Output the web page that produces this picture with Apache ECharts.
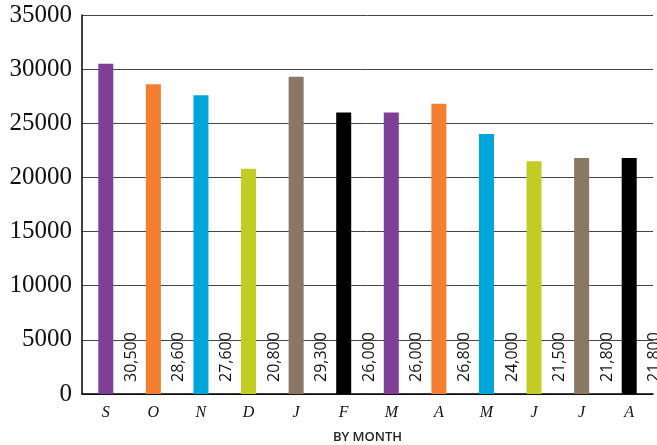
<!DOCTYPE html>
<html>
<head>
<meta charset="utf-8">
<script src="https://cdn.jsdelivr.net/npm/echarts@6/dist/echarts.min.js"></script>
<style>
  html, body { margin: 0; padding: 0; background: #fff; }
  #chart { width: 657px; height: 445px; }
</style>
</head>
<body>
<div id="chart"></div>
<script>
// Monthly totals, September through August
const months = ['S', 'O', 'N', 'D', 'J', 'F', 'M', 'A', 'M', 'J', 'J', 'A'];
const totals = [30500, 28600, 27600, 20800, 29300, 26000, 26000, 26800, 24000, 21500, 21800, 21800];
const palette = ['#7f3f98', '#f47f30', '#00a5da', '#c2cd23', '#8b7766', '#000000'];
const yTicks = [0, 5000, 10000, 15000, 20000, 25000, 30000, 35000];

const chart = echarts.init(document.getElementById('chart'), null, { renderer: 'canvas' });

chart.setOption({
  animation: false,
  grid: { left: 82, right: 4, top: 15, bottom: 51, containLabel: false, outerBoundsMode: 'none' },
  xAxis: {
    type: 'category',
    data: months,
    name: 'BY MONTH',
    nameLocation: 'middle',
    nameGap: 37,
    nameTextStyle: {
      fontFamily: 'Open Sans', fontSize: 13, fontWeight: 600, color: '#222'
    },
    axisLine: { lineStyle: { color: '#000', width: 1.5 } },
    axisTick: { show: false },
    axisLabel: {
      fontFamily: 'Liberation Serif', fontStyle: 'italic', fontSize: 16,
      color: '#111', margin: 11
    }
  },
  yAxis: {
    type: 'value',
    min: yTicks[0],
    max: yTicks[yTicks.length - 1],
    interval: 5000,
    axisLine: { show: true, lineStyle: { color: '#000', width: 1.5 } },
    axisTick: { show: false },
    splitLine: { lineStyle: { color: '#444', width: 1 } },
    axisLabel: {
      fontFamily: 'Liberation Serif', fontSize: 25, color: '#111', margin: 10,
      formatter: v => String(v)
    }
  },
  series: [{
    type: 'bar',
    data: totals.map((v, i) => ({ value: v, itemStyle: { color: palette[i % palette.length] } })),
    barWidth: 15,
    label: {
      show: true,
      position: ['100%', '100%'],
      // offset is applied in the rotated frame: [up along text, right across it]
      offset: [12, 18],
      rotate: 90,
      align: 'left',
      verticalAlign: 'middle',
      fontFamily: 'Open Sans',
      fontSize: 16,
      color: '#111',
      formatter: p => p.value.toLocaleString('en-US')
    }
  }]
});
</script>
</body>
</html>
